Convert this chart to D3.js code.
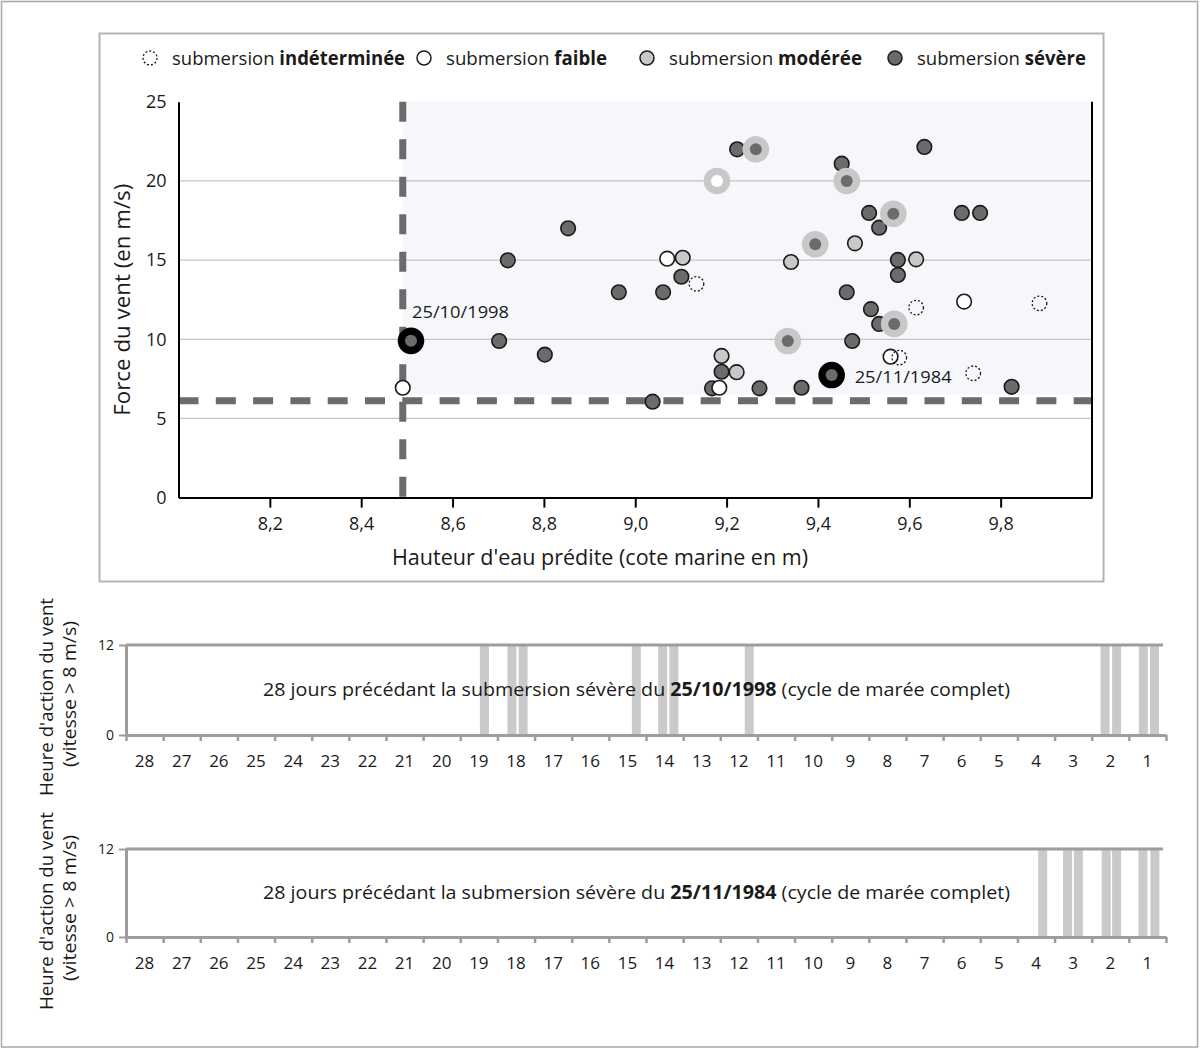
<!DOCTYPE html>
<html>
<head>
<meta charset="utf-8">
<script src="https://cdn.jsdelivr.net/npm/d3@7"></script>
<style>
body { margin: 0; background: #fff; }
svg text { font-family: "Open Sans", sans-serif; fill: #1a1a1a; white-space: pre; }
</style>
</head>
<body>
<svg id="chart" width="1200" height="1049"></svg>
<script>
/* Données du nuage de points : [hauteur d'eau (m), force du vent (m/s)] */
const pointsIndeterminee = [[9.134, 13.5], [9.615, 12.0], [9.885, 12.27], [9.578, 8.84], [9.740, 7.85]];
const pointsFaible = [[8.491, 6.94], [9.070, 15.09], [9.184, 6.94], [9.720, 12.38], [9.559, 8.90]];
const pointsModeree = [[9.104, 15.15], [9.189, 8.95], [9.222, 7.92], [9.341, 14.88], [9.481, 16.06], [9.615, 15.05]];
const pointsSevere = [
    [8.721, 14.99], [8.853, 17.01], [8.702, 9.89], [8.802, 9.03], [8.964, 12.97],
    [9.061, 12.97], [9.101, 13.95], [9.038, 6.06], [9.189, 7.95], [9.168, 6.90],
    [9.223, 22.0], [9.452, 21.09], [9.633, 22.15], [9.512, 17.98], [9.534, 17.05],
    [9.715, 17.98], [9.755, 17.98], [9.575, 15.01], [9.575, 14.06], [9.463, 12.97],
    [9.516, 11.9], [9.534, 10.97], [9.475, 9.89], [9.824, 7.0], [9.272, 6.90], [9.364, 6.94]
];
// points entourés d'un halo gris
const haloSevere = [[9.264, 22.0], [9.463, 20.0], [9.565, 17.93], [9.394, 16.0], [9.567, 10.97], [9.334, 9.89]];
const haloFaible = [[9.179, 20.0]];
// les deux événements repérés
const datesMarquees = ["25/10/1998", "25/11/1984"];
const hauteurMarquee = [8.509, 9.430];
const ventMarque = [9.9, 7.74];

// seuils (lignes en pointillés)
const seuilHauteur = 8.491;
const seuilVent = 6.12;

const xTicks = [8.2, 8.4, 8.6, 8.8, 9.0, 9.2, 9.4, 9.6, 9.8];
const yTicks = [0, 5, 10, 15, 20, 25];
const yGrid = [5, 10, 15, 20];

const legendeNiveaux = ["indéterminée", "faible", "modérée", "sévère"];

/* Données des deux bandeaux : [jours avant la submersion, heures d'action du vent] */
const joursLabels = [28, 27, 26, 25, 24, 23, 22, 21, 20, 19, 18, 17, 16, 15, 14, 13, 12, 11, 10, 9, 8, 7, 6, 5, 4, 3, 2, 1];
const bars1998 = [[18.35, 12], [17.61, 12], [17.31, 12], [14.26, 12], [13.55, 12], [13.25, 12], [11.22, 12],
                  [1.64, 12], [1.33, 12], [0.61, 12], [0.31, 12]];
const bars1984 = [[3.32, 12], [2.65, 12], [2.36, 12], [1.61, 12], [1.33, 12], [0.62, 12], [0.30, 12]];
const heuresTicks = [0, 12];

/********************************************************************
Mise en page
*********************************************************************/
const svg = d3.select("#chart");

const colSevere = "#6b6b6b";
const colModeree = "#c8c8c8";
const colGris = "#9d9d9d";

function fit(sel, w) {
    sel.attr("textLength", w).attr("lengthAdjust", "spacingAndGlyphs");
}

// cadre général
svg.append("rect")
    .attr("x", 1.5).attr("y", 1.5).attr("width", 1196).attr("height", 1045.5)
    .attr("fill", "none").attr("stroke", "#a8a8a8").attr("stroke-width", 1.5);

// cadre du nuage de points
svg.append("rect")
    .attr("x", 99.5).attr("y", 33.5).attr("width", 1004).attr("height", 548)
    .attr("fill", "none").attr("stroke", "#b4b4b4").attr("stroke-width", 2);

const x = d3.scaleLinear().domain([8, 10]).range([178.5, 1092]);
const y = d3.scaleLinear().domain([0, 25]).range([497.6, 101.8]);

// zone grisée au-dessus des deux seuils
svg.append("rect")
    .attr("x", x(seuilHauteur)).attr("y", y(25))
    .attr("width", x(10) - x(seuilHauteur))
    .attr("height", y(seuilVent) - 6 - y(25))
    .attr("fill", "#f6f7fb");

// quadrillage
svg.append("g").selectAll("line")
    .data(yGrid).enter().append("line")
    .attr("x1", x(8)).attr("x2", x(10))
    .attr("y1", d => y(d)).attr("y2", d => y(d))
    .attr("stroke", "#c4c4c4").attr("stroke-width", 1.3);

// seuils en pointillés
svg.append("line")
    .attr("x1", x(8)).attr("x2", x(10))
    .attr("y1", y(seuilVent)).attr("y2", y(seuilVent))
    .attr("stroke", "#6b6b6b").attr("stroke-width", 7)
    .attr("stroke-dasharray", "20,17.3");
svg.append("line")
    .attr("x1", x(seuilHauteur)).attr("x2", x(seuilHauteur))
    .attr("y1", y(25)).attr("y2", y(0))
    .attr("stroke", "#6b6b6b").attr("stroke-width", 7)
    .attr("stroke-dasharray", "20,17.5");

// axes
const xAxis = svg.append("g")
    .attr("transform", `translate(0,${y(0)})`)
    .call(d3.axisBottom(x).tickValues(xTicks).tickSize(10).tickSizeOuter(0).tickPadding(10)
        .tickFormat(d => d3.format(".1f")(d).replace(".", ",")));
xAxis.select(".domain").attr("stroke", "#000").attr("stroke-width", 2);
xAxis.selectAll(".tick line").attr("stroke", "#000").attr("stroke-width", 2);
xAxis.selectAll("text").attr("font-size", 18).attr("fill", "#1a1a1a");

const yAxis = svg.append("g")
    .attr("transform", `translate(${x(8)},0)`)
    .call(d3.axisLeft(y).tickValues(yTicks).tickSize(0).tickPadding(12));
yAxis.select(".domain").attr("stroke", "#000").attr("stroke-width", 2);
yAxis.selectAll("text").attr("font-size", 18).attr("fill", "#1a1a1a");

svg.append("line")
    .attr("x1", x(10)).attr("x2", x(10)).attr("y1", y(25)).attr("y2", y(0))
    .attr("stroke", "#000").attr("stroke-width", 2);

// titres des axes
svg.append("text")
    .attr("x", 392).attr("y", 565)
    .attr("font-size", 21)
    .text("Hauteur d'eau prédite (cote marine en m)")
    .call(fit, 416);

svg.append("text")
    .attr("transform", `translate(130,${(y(0) + y(25)) / 2 + 116}) rotate(-90)`)
    .attr("font-size", 21)
    .text("Force du vent (en m/s)")
    .call(fit, 232);

// points
const pts = svg.append("g");

pts.selectAll(".severe")
    .data(pointsSevere).enter().append("circle")
    .attr("cx", d => x(d[0])).attr("cy", d => y(d[1])).attr("r", 7.3)
    .attr("fill", colSevere).attr("stroke", "#1a1a1a").attr("stroke-width", 1.6);

pts.selectAll(".moderee")
    .data(pointsModeree).enter().append("circle")
    .attr("cx", d => x(d[0])).attr("cy", d => y(d[1])).attr("r", 7.3)
    .attr("fill", colModeree).attr("stroke", "#1a1a1a").attr("stroke-width", 1.6);

pts.selectAll(".faible")
    .data(pointsFaible).enter().append("circle")
    .attr("cx", d => x(d[0])).attr("cy", d => y(d[1])).attr("r", 7.3)
    .attr("fill", "#fff").attr("stroke", "#1a1a1a").attr("stroke-width", 1.6);

pts.selectAll(".indet")
    .data(pointsIndeterminee).enter().append("circle")
    .attr("cx", d => x(d[0])).attr("cy", d => y(d[1])).attr("r", 7.3)
    .attr("fill", "none").attr("stroke", "#1a1a1a").attr("stroke-width", 1.3)
    .attr("stroke-dasharray", "2,2");

// halos
const halos = pts.selectAll(".halo")
    .data(haloSevere.map(d => ({ p: d, c: colSevere })).concat(haloFaible.map(d => ({ p: d, c: "#fff" }))))
    .enter().append("g");
halos.append("circle")
    .attr("cx", d => x(d.p[0])).attr("cy", d => y(d.p[1])).attr("r", 13.3)
    .attr("fill", colModeree);
halos.append("circle")
    .attr("cx", d => x(d.p[0])).attr("cy", d => y(d.p[1])).attr("r", 6)
    .attr("fill", d => d.c);

// événements repérés
const marques = pts.selectAll(".marque")
    .data(datesMarquees).enter().append("g");
marques.append("circle")
    .attr("cx", (d, i) => x(hauteurMarquee[i])).attr("cy", (d, i) => y(ventMarque[i])).attr("r", 13.3)
    .attr("fill", "#000");
marques.append("circle")
    .attr("cx", (d, i) => x(hauteurMarquee[i])).attr("cy", (d, i) => y(ventMarque[i])).attr("r", 6)
    .attr("fill", colSevere);

svg.append("text")
    .attr("x", x(hauteurMarquee[0]) + 1).attr("y", y(ventMarque[0]) - 23)
    .attr("font-size", 17).text(datesMarquees[0]).call(fit, 97);
svg.append("text")
    .attr("x", x(hauteurMarquee[1]) + 23).attr("y", y(ventMarque[1]) + 8)
    .attr("font-size", 17).text(datesMarquees[1]).call(fit, 97);

// légende
const legX = [150, 424, 647, 895];
const legW = [233, 161, 193, 169];
const legY = 58;
const legStyles = [
    { fill: "none", dash: "2,2", sw: 1.3 },
    { fill: "#fff", dash: null, sw: 1.5 },
    { fill: colModeree, dash: null, sw: 1.5 },
    { fill: colSevere, dash: null, sw: 1.5 }
];
const leg = svg.append("g").selectAll("g")
    .data(legendeNiveaux).enter().append("g");
leg.append("circle")
    .attr("cx", (d, i) => legX[i]).attr("cy", legY).attr("r", 7)
    .attr("fill", (d, i) => legStyles[i].fill)
    .attr("stroke", "#1a1a1a")
    .attr("stroke-width", (d, i) => legStyles[i].sw)
    .attr("stroke-dasharray", (d, i) => legStyles[i].dash);
const legText = leg.append("text")
    .attr("x", (d, i) => legX[i] + 22).attr("y", legY + 7)
    .attr("font-size", 19);
legText.append("tspan").text("submersion ");
legText.append("tspan").attr("font-weight", "bold").text(d => d);
legText.each(function (d, i) { d3.select(this).call(fit, legW[i]); });

/********************************************************************
Bandeaux des 28 jours
*********************************************************************/
const dx = d3.scaleLinear().domain([28, 0]).range([126, 1166]);

function drawPanel(top, bottom, bars, date, titleCenter) {
    const py = d3.scaleLinear().domain([0, 12]).range([bottom, top]);
    const g = svg.append("g");

    g.selectAll("rect")
        .data(bars).enter().append("rect")
        .attr("x", d => dx(d[0]) - 4.5).attr("width", 9)
        .attr("y", d => py(d[1])).attr("height", d => py(0) - py(d[1]))
        .attr("fill", "#cacaca");

    // ligne du haut (12 h)
    g.append("line")
        .attr("x1", dx(28)).attr("x2", dx(0) - 3)
        .attr("y1", py(12)).attr("y2", py(12))
        .attr("stroke", colGris).attr("stroke-width", 3);

    const ax = g.append("g")
        .attr("transform", `translate(0,${py(0)})`)
        .call(d3.axisBottom(dx).tickValues(d3.range(0, 29)).tickSize(6).tickSizeOuter(0).tickFormat(""));
    ax.select(".domain").attr("stroke", colGris).attr("stroke-width", 3);
    ax.selectAll(".tick line").attr("stroke", colGris).attr("stroke-width", 2.5);

    const ay = g.append("g")
        .attr("transform", `translate(${dx(28)},0)`)
        .call(d3.axisLeft(py).tickValues(heuresTicks).tickSize(7).tickPadding(5).tickSizeOuter(0));
    ay.select(".domain").attr("stroke", colGris).attr("stroke-width", 3);
    ay.selectAll(".tick line").attr("stroke", colGris).attr("stroke-width", 2);
    ay.selectAll("text").attr("font-size", 14).attr("fill", "#1a1a1a");

    g.selectAll(".jour")
        .data(joursLabels).enter().append("text")
        .attr("x", d => dx(d - 0.5)).attr("y", py(0) + 32)
        .attr("text-anchor", "middle").attr("font-size", 17)
        .text(d => d);

    const cap = g.append("text")
        .attr("x", 263).attr("y", (top + bottom) / 2 + 6)
        .attr("font-size", 19);
    cap.append("tspan").text("28 jours précédant la submersion sévère du ");
    cap.append("tspan").attr("font-weight", "bold").text(date);
    cap.append("tspan").text(" (cycle de marée complet)");
    cap.call(fit, 747);

    g.append("text")
        .attr("transform", `translate(53,${titleCenter}) rotate(-90)`)
        .attr("text-anchor", "middle").attr("font-size", 19)
        .text("Heure d'action du vent").call(fit, 198);
    g.append("text")
        .attr("transform", `translate(76,${titleCenter - 3}) rotate(-90)`)
        .attr("text-anchor", "middle").attr("font-size", 19)
        .text("(vitesse > 8 m/s)").call(fit, 146);
}

drawPanel(645, 735, bars1998, datesMarquees[0], 697);
drawPanel(849, 937, bars1984, datesMarquees[1], 911);
</script>
</body>
</html>
